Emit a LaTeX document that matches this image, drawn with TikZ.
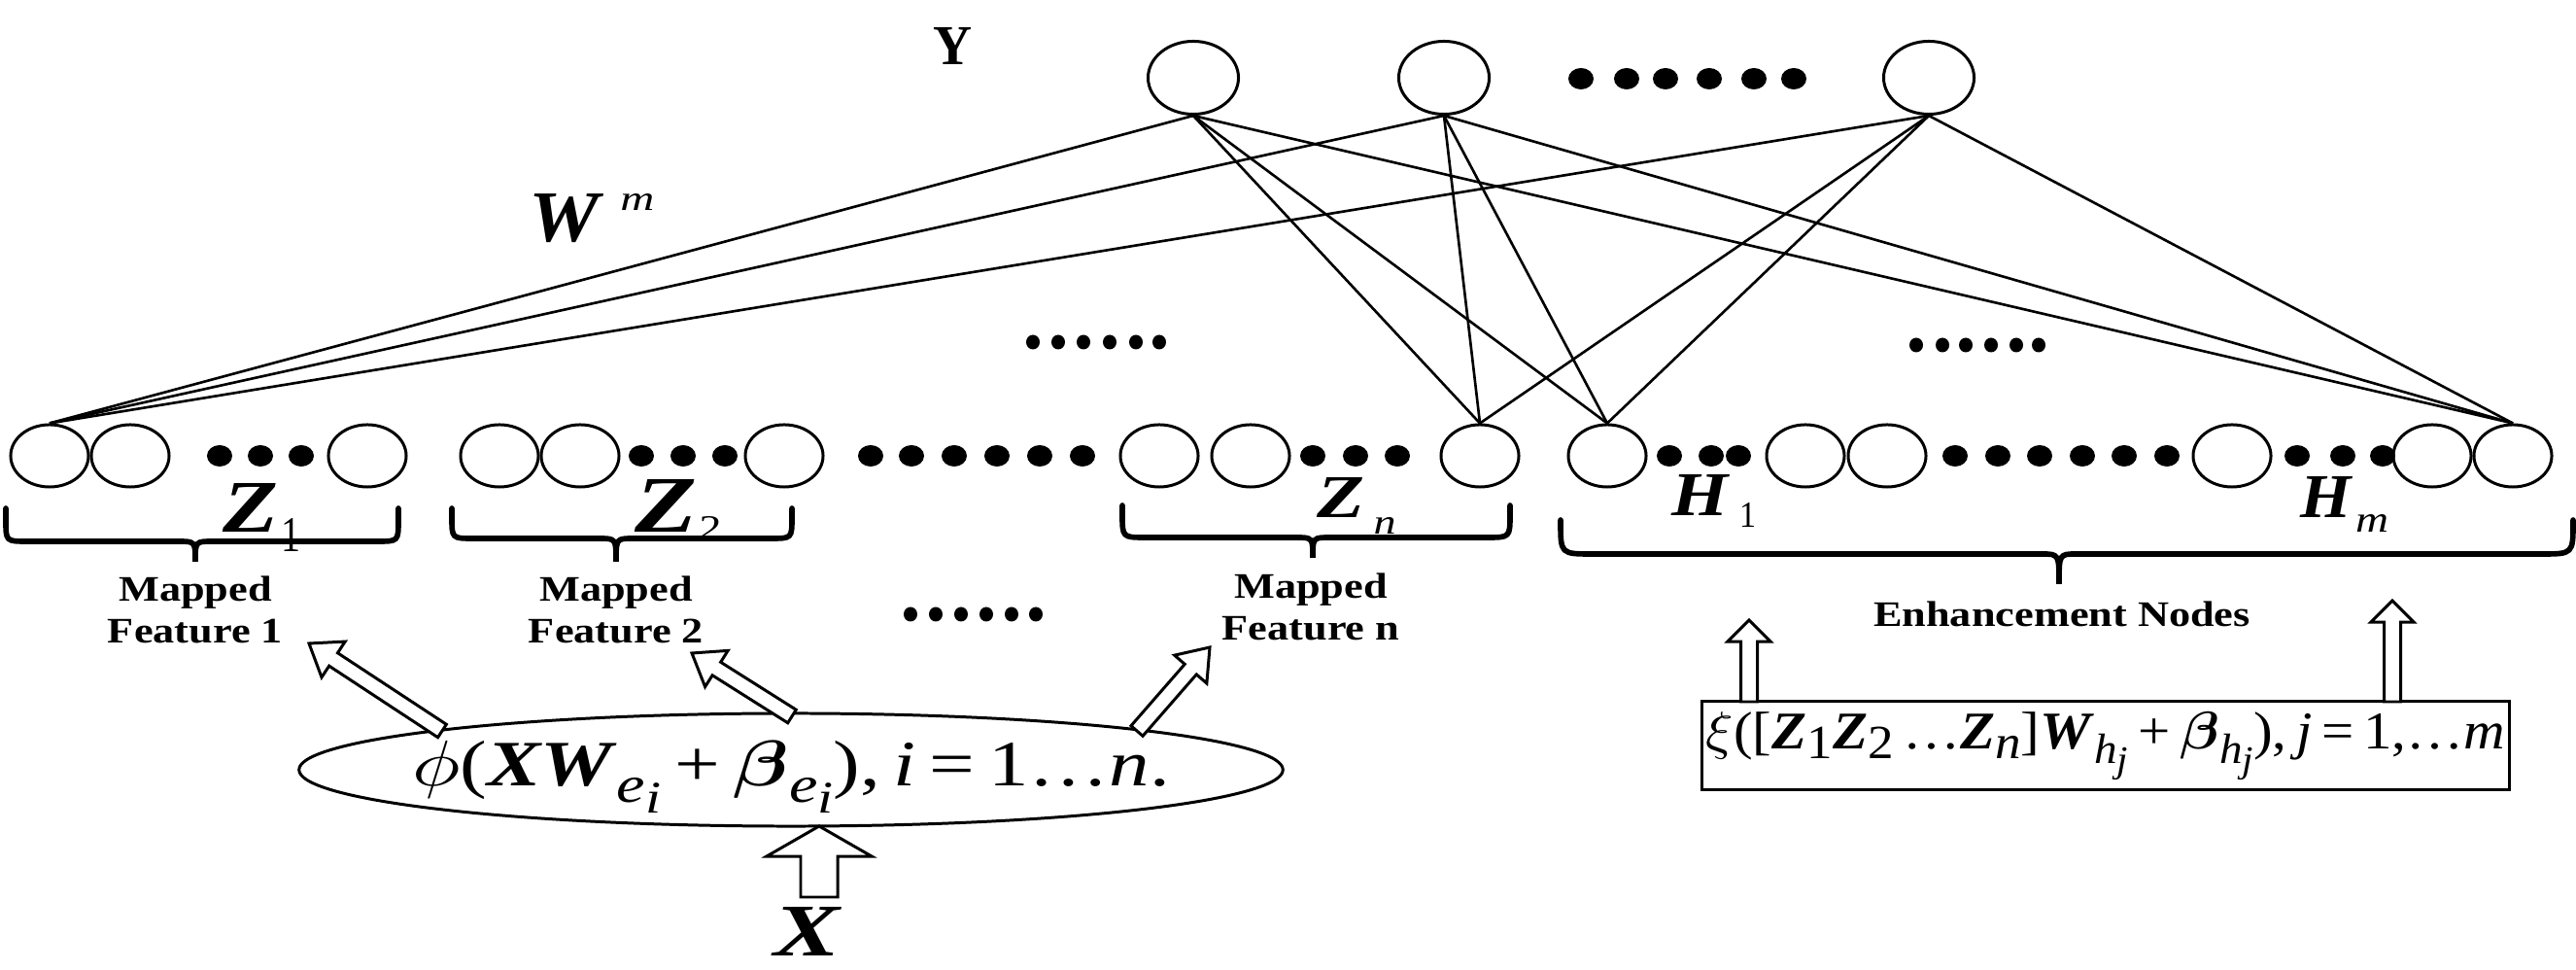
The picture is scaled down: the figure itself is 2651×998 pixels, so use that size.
\documentclass[tikz,border=0pt]{standalone}
\usepackage{fontspec}
\setmainfont{Liberation Serif}
\usepackage{graphicx}
\usepackage{bm}
\usetikzlibrary{shapes.geometric,calc}
\newcommand{\bi}[1]{\textbf{\textit{#1}}}
\newcommand{\fitbox}[3]{\resizebox*{#1cm}{#2cm}{#3}}
\newcommand{\hs}[1]{\scalebox{1.2}[1]{#1}}
\newcommand{\mybrace}[7]{\draw[brc] (#1,#4) -- (#1,#5-#7) .. controls (#1,#5) .. (#1+#7,#5) -- (#3-18,#5) .. controls (#3,#5) .. (#3,#6) .. controls (#3,#5) .. (#3+18,#5) -- (#2-#7,#5) .. controls (#2,#5) .. (#2,#5-#7) -- (#2,#4);}
\newcommand{\hollowarrow}[5]{%
  \coordinate (hb) at ($(#2)!#5!(#1)$);
  \draw[harr] ($(#1)!#3!90:(#2)$) -- ($(hb)!#3!90:(#2)$) -- ($(hb)!#4!90:(#2)$) -- (#2) -- ($(hb)!#4!-90:(#2)$) -- ($(hb)!#3!-90:(#2)$) -- ($(#1)!#3!-90:(#2)$) -- cycle;}
\tikzset{
  nd/.style={ellipse, draw, line width=0.85pt, minimum width=0.8cm, minimum height=0.64cm, inner sep=0pt},
  tnd/.style={ellipse, draw, line width=0.85pt, minimum width=0.93cm, minimum height=0.75cm, inner sep=0pt},
  bdot/.style={ellipse, fill, minimum width=0.26cm, minimum height=0.22cm, inner sep=0pt},
  sdot/.style={ellipse, fill, minimum width=0.14cm, minimum height=0.15cm, inner sep=0pt},
  conn/.style={line width=0.75pt},
  brc/.style={line width=1.6pt, line cap=round},
  harr/.style={line width=0.85pt, fill=white, line join=miter},
  txt/.style={inner sep=0pt, outer sep=0pt},
  lab/.style={inner sep=0pt, font=\bfseries\fontsize{10.5}{12.2}\selectfont, align=center}
}
\begin{document}
\begin{tikzpicture}[x=0.01cm,y=-0.01cm]
\useasboundingbox (0,0) rectangle (2651,998);

% top output nodes
\node[tnd] (t1) at (1228,80) {};
\node[tnd] (t2) at (1486,80) {};
\node[tnd] (t3) at (1985,80) {};
\foreach \x [count=\i] in {1627,1674,1714,1759,1805,1846} \node[bdot] (td\i) at (\x,81) {};
\node[txt] (ylab) at (980,48) {\fitbox{0.40}{0.38}{\textbf{Y}}};

% W^m
\node[txt] (wlab) at (583,225) {\fitbox{0.77}{0.50}{\bi{W}}};
\node[txt] (wsup) at (656,208) {\fitbox{0.35}{0.17}{\textit{m}}};

% bottom row: group 1
\node[nd] (a1) at (51,469) {};
\node[nd] (a2) at (134,469) {};
\node[nd] (a3) at (378,469) {};
\foreach \x [count=\i] in {226,268,310} \node[bdot] (ad\i) at (\x,469) {};
% group 2
\node[nd] (c1) at (514,469) {};
\node[nd] (c2) at (597,469) {};
\node[nd] (c3) at (807,469) {};
\foreach \x [count=\i] in {660,703,746} \node[bdot] (cd\i) at (\x,469) {};
% middle dots
\foreach \x [count=\i] in {896,938,982,1026,1070,1114} \node[bdot] (md\i) at (\x,469) {};
% group n
\node[nd] (n1) at (1193,469) {};
\node[nd] (n2) at (1287,469) {};
\node[nd] (n3) at (1523,469) {};
\foreach \x [count=\i] in {1351,1395,1438} \node[bdot] (nd\i) at (\x,469) {};
% enhancement nodes
\node[nd] (h1) at (1654,469) {};
\node[nd] (h2) at (1858,469) {};
\node[nd] (h3) at (1942,469) {};
\node[nd] (h4) at (2297,469) {};
\node[nd] (h5) at (2503,469) {};
\node[nd] (h6) at (2586,469) {};
\foreach \x [count=\i] in {1718,1761,1789,2012,2056,2099,2143,2186,2230,2364,2411,2452} \node[bdot] (hd\i) at (\x,469) {};

% small dots
\foreach \x [count=\i] in {1063,1089,1115,1142,1169,1193} \node[sdot] (sa\i) at (\x,352) {};
\foreach \x [count=\i] in {1972,1999,2023,2049,2075,2098} \node[sdot] (sb\i) at (\x,355) {};
\foreach \x [count=\i] in {937,963,989,1015,1041,1066} \node[sdot] (sc\i) at (\x,632) {};

% connections
\foreach \s in {t1,t2,t3}
  \foreach \d in {a1,n3,h1,h6}
    \draw[conn] (\s.south) -- (\d.north);

% braces
\mybrace{6}{410}{201}{523}{557}{578}{22}
\mybrace{465}{815}{634}{523}{554}{578}{22}
\mybrace{1155}{1554}{1351}{520}{553}{574}{24}
\mybrace{1606}{2648}{2119}{535}{570}{601}{33}

% group labels
\node[txt] (z1) at (258,522) {\fitbox{0.57}{0.50}{\bi{Z}}};
\node[txt] (z1s) at (300,550) {\fitbox{0.20}{0.34}{1}};
\node[txt] (z2) at (686,520) {\fitbox{0.64}{0.54}{\bi{Z}}};
\node[txt] (z2s) at (731,543) {\fitbox{0.23}{0.23}{2}};
\node[txt] (zn) at (1380,512) {\fitbox{0.49}{0.41}{\bi{Z}}};
\node[txt] (zns) at (1425,541) {\fitbox{0.23}{0.17}{\textit{n}}};
\node[txt] (hh1) at (1751,509) {\fitbox{0.60}{0.42}{\bi{H}}};
\node[txt] (hh1s) at (1799,530) {\fitbox{0.17}{0.25}{1}};
\node[txt] (hm) at (2394,511) {\fitbox{0.54}{0.42}{\bi{H}}};
\node[txt] (hms) at (2441,539) {\fitbox{0.34}{0.18}{\textit{m}}};

\node[lab] (mf1) at (201,627) {\hs{Mapped}\\\hs{Feature 1}};
\node[lab] (mf2) at (634,627) {\hs{Mapped}\\\hs{Feature 2}};
\node[lab] (mfn) at (1349,624) {\hs{Mapped}\\\hs{Feature n}};
\node[lab] (enh) at (2122,632) {\hs{Enhancement Nodes}};

% feature mapping ellipse
\node[ellipse, draw, line width=0.85pt, minimum width=10.12cm, minimum height=1.16cm, inner sep=0pt] (enc) at (814,792) {};
\node[txt] (encf) at (814,799) {\fitbox{7.79}{0.74}{$\phi$(\bi{XW}\raisebox{-0.55ex}{\footnotesize\textit{e}\raisebox{-0.45ex}{\scriptsize\textit{i}}}\,+\,$\bm{\beta}$\raisebox{-0.55ex}{\footnotesize\textit{e}\raisebox{-0.45ex}{\scriptsize\textit{i}}}),\,\textit{i}\,=\,1\ldots\textit{n}.}};

% enhancement box
\node[draw, line width=0.85pt, minimum width=8.30cm, minimum height=0.91cm, inner sep=0pt] (ebox) at (2167,767) {};
\node[txt] (eboxf) at (2167,768) {\fitbox{8.22}{0.70}{$\xi$([\bi{Z}\raisebox{-0.4ex}{\small 1}\bi{Z}\raisebox{-0.4ex}{\small 2}\,\ldots\bi{Z}\raisebox{-0.4ex}{\small\textit{n}}]\bi{W}\raisebox{-0.6ex}{\footnotesize\textit{h}\raisebox{-0.45ex}{\scriptsize\textit{j}}}\,+\,$\bm{\beta}$\raisebox{-0.6ex}{\footnotesize\textit{h}\raisebox{-0.45ex}{\scriptsize\textit{j}}}),\,\textit{j}\,=\,1,\ldots\textit{m}}};

% input
\node[txt] (xlab) at (832,958) {\fitbox{0.70}{0.50}{\bi{X}}};

% hollow arrows
\coordinate (e1s) at (455,752); \coordinate (e1t) at (318,662);
\coordinate (e2s) at (815,737); \coordinate (e2t) at (712,672);
\coordinate (e3s) at (1170,752); \coordinate (e3t) at (1245,666);
\coordinate (xs) at (843,923); \coordinate (xt) at (843,850);
\coordinate (u1s) at (1800,722); \coordinate (u1t) at (1800,638);
\coordinate (u2s) at (2462,722); \coordinate (u2t) at (2462,618);
\hollowarrow{e1s}{e1t}{0.08cm}{0.22cm}{0.30cm}
\hollowarrow{e2s}{e2t}{0.08cm}{0.22cm}{0.30cm}
\hollowarrow{e3s}{e3t}{0.08cm}{0.22cm}{0.30cm}
\hollowarrow{xs}{xt}{0.19cm}{0.54cm}{0.31cm}
\hollowarrow{u1s}{u1t}{0.085cm}{0.22cm}{0.22cm}
\hollowarrow{u2s}{u2t}{0.085cm}{0.22cm}{0.22cm}
\end{tikzpicture}
\end{document}
